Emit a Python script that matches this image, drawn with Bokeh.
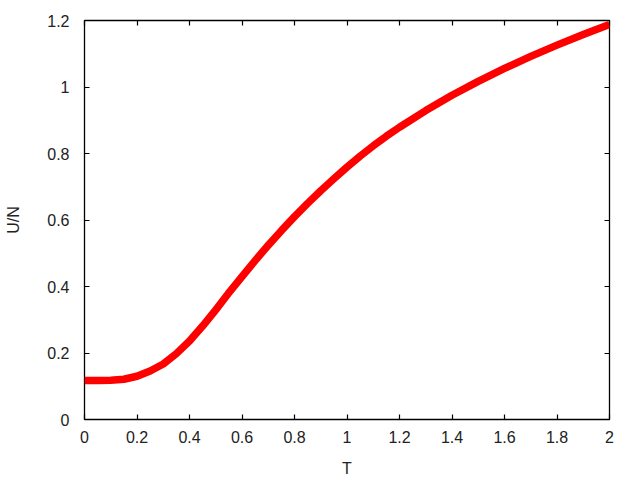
from bokeh.plotting import figure
from bokeh.models import Range1d, FixedTicker, LinearAxis
from bokeh.embed import file_html
from bokeh.resources import INLINE

# Data
T = [0.0, 0.05, 0.1, 0.15, 0.2, 0.25, 0.3, 0.35, 0.4, 0.45, 0.5, 0.55, 0.6, 0.65, 0.7, 0.75, 0.8,
     0.85, 0.9, 0.95, 1.0, 1.05, 1.1, 1.15, 1.2, 1.3, 1.4, 1.5, 1.6, 1.7, 1.8, 1.9, 2.0]
U = [0.117, 0.117, 0.118, 0.121, 0.130, 0.146, 0.167, 0.198, 0.236, 0.281, 0.330, 0.381, 0.430,
     0.478, 0.524, 0.568, 0.610, 0.650, 0.688, 0.724, 0.759, 0.792, 0.823, 0.852, 0.879, 0.929,
     0.975, 1.017, 1.056, 1.092, 1.126, 1.158, 1.188]

x_ticks = [0, 0.2, 0.4, 0.6, 0.8, 1, 1.2, 1.4, 1.6, 1.8, 2]
x_tick_labels = ["0", "0.2", "0.4", "0.6", "0.8", "1", "1.2", "1.4", "1.6", "1.8", "2"]
y_ticks = [0, 0.2, 0.4, 0.6, 0.8, 1, 1.2]
y_tick_labels = ["0", "0.2", "0.4", "0.6", "0.8", "1", "1.2"]

FONT = "Liberation Sans"
FS = "16px"
TXT = "#222222"

p = figure(width=640, height=480, output_backend="svg", toolbar_location=None,
           x_range=Range1d(0, 2), y_range=Range1d(0, 1.2),
           min_border_left=84, min_border_right=31, min_border_top=20, min_border_bottom=61,
           x_axis_label="T", y_axis_label="U/N")
p.grid.visible = False
p.outline_line_color = "black"
p.outline_line_width = 1.3
p.background_fill_color = "white"
p.border_fill_color = "white"

p.line(T, U, line_width=7.5, line_color="#ff0000", line_join="round")

def style(ax, ticks, labels, show_labels=True):
    ax.ticker = FixedTicker(ticks=ticks)
    ax.minor_tick_line_color = None
    ax.major_tick_in = 5
    ax.major_tick_out = 0
    ax.major_tick_line_color = "black"
    ax.major_tick_line_width = 1.2
    ax.axis_line_color = None
    ax.major_label_text_font = FONT
    ax.major_label_text_font_size = FS
    ax.major_label_text_color = TXT
    ax.axis_label_text_font = FONT
    ax.axis_label_text_font_size = FS
    ax.axis_label_text_font_style = "normal"
    ax.axis_label_text_color = TXT
    if show_labels:
        ax.major_label_overrides = {t: l for t, l in zip(ticks, labels)}
    else:
        ax.major_label_overrides = {t: "" for t in ticks}

xa = p.xaxis[0]
ya = p.yaxis[0]
style(xa, x_ticks, x_tick_labels)
style(ya, y_ticks, y_tick_labels)
xa.major_label_standoff = 11
xa.axis_label_standoff = 14
ya.major_label_standoff = 15
ya.axis_label_standoff = 22

ra = LinearAxis()
style(ra, y_ticks, y_tick_labels, show_labels=False)
p.add_layout(ra, "right")
ta = LinearAxis()
style(ta, x_ticks, x_tick_labels, show_labels=False)
p.add_layout(ta, "above")

open("out.html", "w").write(file_html(p, INLINE))
